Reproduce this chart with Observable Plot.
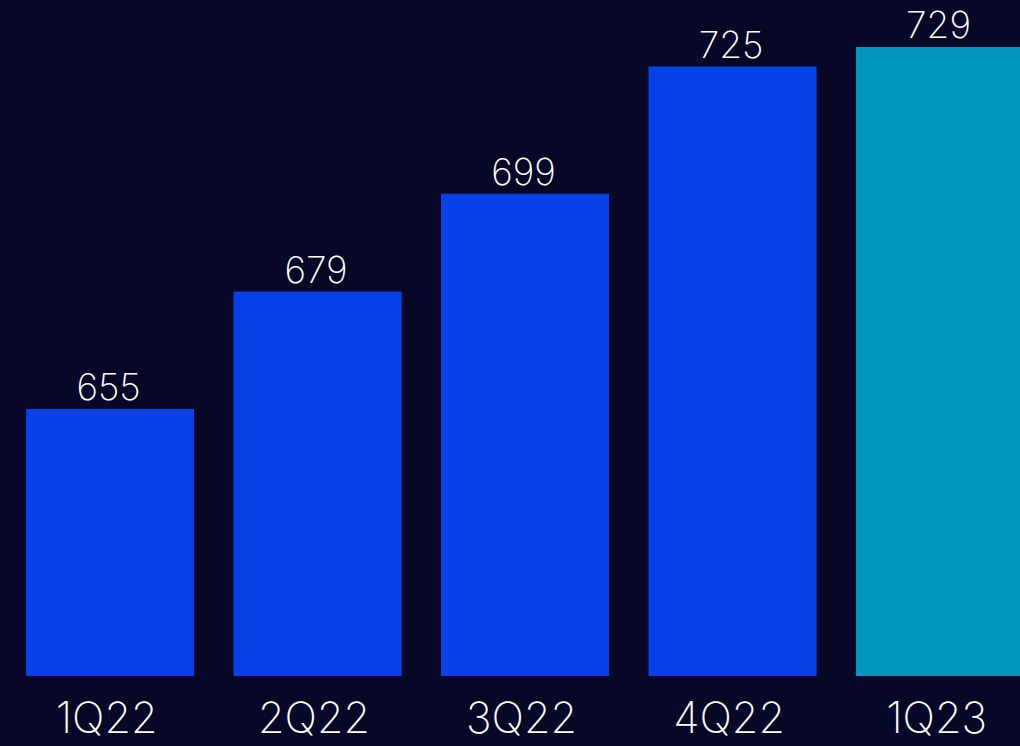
<!DOCTYPE html>
<html>
<head>
<meta charset="utf-8">
<script src="https://cdn.jsdelivr.net/npm/d3@7"></script>
<script src="https://cdn.jsdelivr.net/npm/@observablehq/plot@0.6"></script>
<style>
  html, body { margin: 0; padding: 0; background: #070828; overflow: hidden; }
  #chart { width: 1020px; height: 746px; overflow: hidden; }
</style>
</head>
<body>
<div id="chart"></div>
<script>
const quarters = ["1Q22", "2Q22", "3Q22", "4Q22", "1Q23"];
const values = [655, 679, 699, 725, 729];
const barColors = ["#0841e8", "#0841e8", "#0841e8", "#0841e8", "#0095bf"];
const yDomain = [600.4, 738.6];

const data = quarters.map((q, i) => ({q, v: values[i], c: barColors[i]}));

const chart = Plot.plot({
  width: 1020,
  height: 746,
  marginTop: 0,
  marginBottom: 70,
  marginLeft: 0,
  marginRight: 0,
  style: {background: "#070828", color: "#ffffff", fontFamily: "Inter, sans-serif", overflow: "hidden"},
  x: {domain: quarters, range: [6.3, 1043.8], paddingInner: 0.19, paddingOuter: 0.095, round: false, label: null},
  y: {domain: yDomain, axis: null},
  marks: [
    Plot.barY(data, {x: "q", y1: yDomain[0], y2: "v", fill: "c"}),
    Plot.text(data, {x: "q", y: "v", text: d => String(d.v), dy: -9, dx: -2, lineAnchor: "bottom",
      fill: "#ffffff", fontSize: 37, fontWeight: 200, fontFamily: "Inter, sans-serif"}),
    Plot.axisX({tickSize: 0, tickPadding: 26, dx: -4, fontSize: 43, fontWeight: 200, fill: "#ffffff", label: null, fontFamily: "Inter, sans-serif"})
  ]
});
document.getElementById("chart").appendChild(chart);
</script>
</body>
</html>
